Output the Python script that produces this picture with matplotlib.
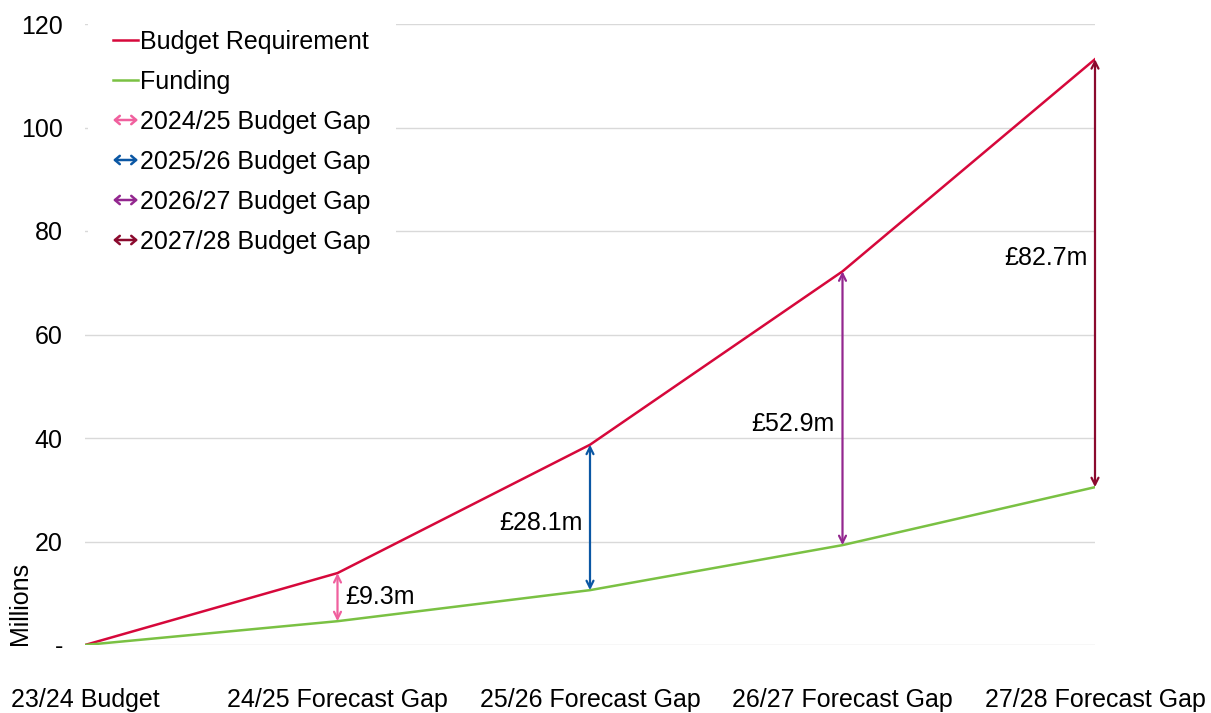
import matplotlib
matplotlib.use("Agg")
import matplotlib.pyplot as plt
from matplotlib.lines import Line2D
from matplotlib.patches import FancyArrowPatch
from matplotlib.legend_handler import HandlerBase

plt.rcParams['font.family'] = ['Liberation Sans', 'DejaVu Sans']

categories = ['23/24 Budget', '24/25 Forecast Gap', '25/26 Forecast Gap',
              '26/27 Forecast Gap', '27/28 Forecast Gap']
requirement = [0, 13.9, 38.7, 72.2, 113.2]
funding = [0, 4.6, 10.6, 19.3, 30.5]
gap_labels = ['2024/25 Budget Gap', '2025/26 Budget Gap',
              '2026/27 Budget Gap', '2027/28 Budget Gap']
gap_text = ['£9.3m', '£28.1m', '£52.9m', '£82.7m']
gap_colors = ['#F0609E', '#0B57A4', '#93278F', '#8B0A2E']
y_ticks = [0, 20, 40, 60, 80, 100, 120]
y_ticklabels = ['-', '20', '40', '60', '80', '100', '120']

FS = 18


class ArrowHandler(HandlerBase):
    def create_artists(self, legend, orig_handle, xdescent, ydescent,
                       width, height, fontsize, trans):
        y = height / 2 - ydescent
        p = FancyArrowPatch((-xdescent, y), (width - xdescent, y),
                            arrowstyle='<->,head_length=0.35,head_width=0.3',
                            mutation_scale=10, color=orig_handle.get_color(),
                            lw=1.8, shrinkA=0, shrinkB=0)
        p.set_transform(trans)
        return [p]


fig = plt.figure(figsize=(12.11, 7.13), dpi=100)
ax = fig.add_axes([85 / 1211, 1 - 645 / 713, (1095 - 85) / 1211, (645 - 24) / 713])

x = range(len(categories))
ax.plot(x, requirement, color='#D6083B', lw=1.8, label='Budget Requirement', zorder=3)
ax.plot(x, funding, color='#7AC143', lw=1.8, label='Funding', zorder=3)

# gap arrows + labels (small vertical nudges to match the original)
nudge = [0, -1, -3, 3]
for i, (txt, c) in enumerate(zip(gap_text, gap_colors)):
    xi = i + 1
    ax.annotate('', xy=(xi, requirement[xi]), xytext=(xi, funding[xi]),
                arrowprops=dict(arrowstyle='<->,head_length=0.5,head_width=0.25',
                                color=c, lw=1.6, shrinkA=0, shrinkB=0), zorder=4)
    ymid = (requirement[xi] + funding[xi]) / 2 + nudge[i]
    if i == 0:
        ax.text(xi + 0.03, ymid, txt, ha='left', va='center', fontsize=FS)
    else:
        ax.text(xi - 0.03, ymid, txt, ha='right', va='center', fontsize=FS)

ax.set_xlim(0, 4)
ax.set_ylim(0, 120)
ax.set_xticks(list(x))
ax.set_xticklabels(categories, fontsize=FS)
ax.set_yticks(y_ticks)
ax.set_yticklabels(y_ticklabels, fontsize=FS)
ax.tick_params(axis='both', length=0)
ax.tick_params(axis='x', pad=31)
ax.tick_params(axis='y', pad=16)
ax.grid(axis='y', color='#D9D9D9', lw=1)
ax.set_axisbelow(True)
for s in ax.spines.values():
    s.set_visible(False)
ax.set_ylabel('Millions', fontsize=FS, loc='bottom')
ax.yaxis.set_label_coords(-0.0525, 0.0)

handles, labels = ax.get_legend_handles_labels()
gap_handles = [Line2D([], [], color=c) for c in gap_colors]
leg = ax.legend(handles + gap_handles, labels + gap_labels,
                handler_map={h: ArrowHandler() for h in gap_handles},
                loc='upper left', bbox_to_anchor=(0.003, 1.031),
                fontsize=FS, frameon=True, edgecolor='none', facecolor='white',
                framealpha=1, fancybox=False, handlelength=1.0, handletextpad=0.08,
                labelspacing=0.64, borderpad=1.0, borderaxespad=0)
leg.set_zorder(5)

fig.savefig('out.png', dpi=100)
